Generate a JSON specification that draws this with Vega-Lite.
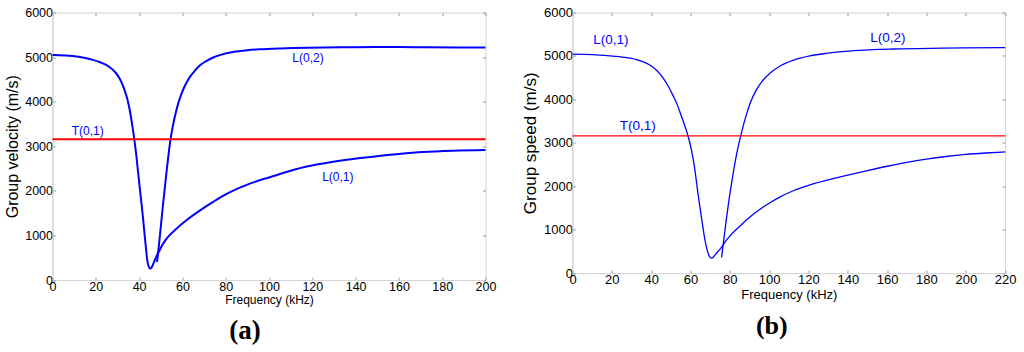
{
  "$schema": "https://vega.github.io/schema/vega-lite/v6.json",
  "background": "white",
  "padding": {"left": 3.5, "top": 5.5, "right": 0, "bottom": 0},
  "autosize": {"type": "pad"},
  "bounds": "flush",
  "spacing": 87,
  "config": {
    "font": "'Liberation Sans', Arial, Helvetica, sans-serif",
    "text": {"font": "'Liberation Sans', Arial, Helvetica, sans-serif"},
    "view": {"stroke": "#d4d4d4", "strokeWidth": 1},
    "axis": {"grid": false, "labelFont": "'Liberation Sans', Arial, Helvetica, sans-serif", "titleFont": "'Liberation Sans', Arial, Helvetica, sans-serif", "format": "d", "labelColor": "black", "titleColor": "black", "titleFontWeight": "normal", "domainColor": "#d4d4d4", "tickColor": "#9a9a9a", "tickSize": -3, "labelOverlap": false, "labelFlush": false, "labelBound": false}
  },
  "datasets": {
    "a": [
      {"s": "L01", "f": 0, "v": 5045}, {"s": "L01", "f": 6, "v": 5035}, {"s": "L01", "f": 12, "v": 5005}, {"s": "L01", "f": 18, "v": 4945},
      {"s": "L01", "f": 22, "v": 4885}, {"s": "L01", "f": 26, "v": 4790}, {"s": "L01", "f": 29, "v": 4660}, {"s": "L01", "f": 31, "v": 4520},
      {"s": "L01", "f": 33, "v": 4300}, {"s": "L01", "f": 34.5, "v": 4070}, {"s": "L01", "f": 35.8, "v": 3780}, {"s": "L01", "f": 37, "v": 3420},
      {"s": "L01", "f": 37.8, "v": 3150}, {"s": "L01", "f": 38.7, "v": 2800}, {"s": "L01", "f": 39.5, "v": 2430}, {"s": "L01", "f": 40.3, "v": 2070},
      {"s": "L01", "f": 41.1, "v": 1720}, {"s": "L01", "f": 41.9, "v": 1350}, {"s": "L01", "f": 42.6, "v": 990}, {"s": "L01", "f": 43.2, "v": 700},
      {"s": "L01", "f": 43.7, "v": 470}, {"s": "L01", "f": 44.3, "v": 320}, {"s": "L01", "f": 45.1, "v": 260}, {"s": "L01", "f": 45.8, "v": 285},
      {"s": "L01", "f": 46.8, "v": 390}, {"s": "L01", "f": 48, "v": 530}, {"s": "L01", "f": 49.6, "v": 680}, {"s": "L01", "f": 51, "v": 810},
      {"s": "L01", "f": 52.7, "v": 930}, {"s": "L01", "f": 57, "v": 1140}, {"s": "L01", "f": 62, "v": 1345}, {"s": "L01", "f": 68, "v": 1555},
      {"s": "L01", "f": 74, "v": 1745}, {"s": "L01", "f": 80, "v": 1920}, {"s": "L01", "f": 86, "v": 2060}, {"s": "L01", "f": 90, "v": 2140},
      {"s": "L01", "f": 95, "v": 2225}, {"s": "L01", "f": 100, "v": 2300}, {"s": "L01", "f": 110, "v": 2450}, {"s": "L01", "f": 118, "v": 2550},
      {"s": "L01", "f": 125, "v": 2615}, {"s": "L01", "f": 135, "v": 2690}, {"s": "L01", "f": 148, "v": 2764}, {"s": "L01", "f": 160, "v": 2825},
      {"s": "L01", "f": 171, "v": 2870}, {"s": "L01", "f": 185, "v": 2900}, {"s": "L01", "f": 200, "v": 2915},
      {"s": "L02", "f": 48.3, "v": 400}, {"s": "L02", "f": 49.2, "v": 800}, {"s": "L02", "f": 50.2, "v": 1280}, {"s": "L02", "f": 51.1, "v": 1720},
      {"s": "L02", "f": 52, "v": 2120}, {"s": "L02", "f": 52.8, "v": 2480}, {"s": "L02", "f": 53.6, "v": 2820}, {"s": "L02", "f": 54.5, "v": 3150},
      {"s": "L02", "f": 55.5, "v": 3430}, {"s": "L02", "f": 56.5, "v": 3660}, {"s": "L02", "f": 58, "v": 3950}, {"s": "L02", "f": 59.6, "v": 4180},
      {"s": "L02", "f": 61.5, "v": 4390}, {"s": "L02", "f": 63.4, "v": 4550}, {"s": "L02", "f": 66, "v": 4710}, {"s": "L02", "f": 68, "v": 4810},
      {"s": "L02", "f": 71, "v": 4910}, {"s": "L02", "f": 74.2, "v": 4990}, {"s": "L02", "f": 78, "v": 5055}, {"s": "L02", "f": 83.4, "v": 5115},
      {"s": "L02", "f": 90, "v": 5155}, {"s": "L02", "f": 95.7, "v": 5175}, {"s": "L02", "f": 105, "v": 5195}, {"s": "L02", "f": 118, "v": 5212},
      {"s": "L02", "f": 140, "v": 5222}, {"s": "L02", "f": 160, "v": 5224}, {"s": "L02", "f": 172, "v": 5220}, {"s": "L02", "f": 200, "v": 5215},
      {"s": "T01", "f": 0, "v": 3155}, {"s": "T01", "f": 200, "v": 3155}
    ],
    "b": [
      {"s": "L01", "f": 0, "v": 5040}, {"s": "L01", "f": 10, "v": 5030}, {"s": "L01", "f": 19, "v": 5000}, {"s": "L01", "f": 26, "v": 4968},
      {"s": "L01", "f": 32.5, "v": 4915}, {"s": "L01", "f": 36, "v": 4865}, {"s": "L01", "f": 39.3, "v": 4790}, {"s": "L01", "f": 43, "v": 4660},
      {"s": "L01", "f": 46.1, "v": 4490}, {"s": "L01", "f": 49, "v": 4280}, {"s": "L01", "f": 51.2, "v": 4080}, {"s": "L01", "f": 53.5, "v": 3850},
      {"s": "L01", "f": 55.4, "v": 3610}, {"s": "L01", "f": 57.2, "v": 3380}, {"s": "L01", "f": 58.8, "v": 3150}, {"s": "L01", "f": 60.3, "v": 2870},
      {"s": "L01", "f": 61.9, "v": 2480}, {"s": "L01", "f": 63.9, "v": 1800}, {"s": "L01", "f": 66.1, "v": 1120}, {"s": "L01", "f": 67.5, "v": 730},
      {"s": "L01", "f": 68.5, "v": 530}, {"s": "L01", "f": 69.3, "v": 415}, {"s": "L01", "f": 70, "v": 362}, {"s": "L01", "f": 70.7, "v": 345},
      {"s": "L01", "f": 71.5, "v": 365}, {"s": "L01", "f": 72.4, "v": 415}, {"s": "L01", "f": 73.6, "v": 480}, {"s": "L01", "f": 74.9, "v": 545},
      {"s": "L01", "f": 76.6, "v": 650}, {"s": "L01", "f": 78, "v": 740}, {"s": "L01", "f": 80, "v": 850}, {"s": "L01", "f": 82.5, "v": 970},
      {"s": "L01", "f": 85.1, "v": 1080}, {"s": "L01", "f": 90.2, "v": 1290}, {"s": "L01", "f": 97, "v": 1520}, {"s": "L01", "f": 100.4, "v": 1620},
      {"s": "L01", "f": 105.4, "v": 1750}, {"s": "L01", "f": 112, "v": 1890}, {"s": "L01", "f": 120, "v": 2020}, {"s": "L01", "f": 130, "v": 2145},
      {"s": "L01", "f": 140, "v": 2255}, {"s": "L01", "f": 150, "v": 2360}, {"s": "L01", "f": 160, "v": 2460}, {"s": "L01", "f": 170, "v": 2550},
      {"s": "L01", "f": 180, "v": 2625}, {"s": "L01", "f": 190, "v": 2685}, {"s": "L01", "f": 200, "v": 2732}, {"s": "L01", "f": 210, "v": 2765},
      {"s": "L01", "f": 220, "v": 2790},
      {"s": "L02", "f": 75.8, "v": 360}, {"s": "L02", "f": 77, "v": 790}, {"s": "L02", "f": 78.3, "v": 1260}, {"s": "L02", "f": 79.6, "v": 1690},
      {"s": "L02", "f": 80.9, "v": 2070}, {"s": "L02", "f": 82, "v": 2380}, {"s": "L02", "f": 83, "v": 2630}, {"s": "L02", "f": 84.2, "v": 2900},
      {"s": "L02", "f": 85.6, "v": 3170}, {"s": "L02", "f": 87, "v": 3420}, {"s": "L02", "f": 88.5, "v": 3660}, {"s": "L02", "f": 90.5, "v": 3930},
      {"s": "L02", "f": 93.6, "v": 4225}, {"s": "L02", "f": 96.5, "v": 4420}, {"s": "L02", "f": 100.4, "v": 4600}, {"s": "L02", "f": 106, "v": 4780},
      {"s": "L02", "f": 112.2, "v": 4900}, {"s": "L02", "f": 120.7, "v": 5000}, {"s": "L02", "f": 129.2, "v": 5060}, {"s": "L02", "f": 137, "v": 5100},
      {"s": "L02", "f": 146, "v": 5130}, {"s": "L02", "f": 163, "v": 5160}, {"s": "L02", "f": 188.5, "v": 5178}, {"s": "L02", "f": 220, "v": 5192},
      {"s": "T01", "f": 0, "v": 3160}, {"s": "T01", "f": 220, "v": 3160}
    ],
    "la": [
      {"t": "L(0,2)", "s": "L", "f": 118, "v": 4971},
      {"t": "L(0,1)", "s": "L", "f": 131.8, "v": 2321},
      {"t": "T(0,1)", "s": "T", "f": 16.3, "v": 3348}
    ],
    "lb": [
      {"t": "L(0,1)", "s": "L", "f": 19.5, "v": 5369},
      {"t": "T(0,1)", "s": "T", "f": 33.2, "v": 3390},
      {"t": "L(0,2)", "s": "L", "f": 160.4, "v": 5408}
    ]
  },
  "hconcat": [
    {
      "width": 433,
      "height": 267.5,
      "title": {"text": "(a)", "orient": "bottom", "anchor": "middle", "dx": -24, "offset": 12, "font": "'Liberation Serif', 'Times New Roman', Times, serif", "fontSize": 27, "fontWeight": "bold", "color": "black", "baseline": "top"},
      "resolve": {"axis": {"x": "independent", "y": "independent"}},
      "layer": [
        {
          "data": {"name": "a"},
          "mark": {"type": "line", "strokeWidth": 2, "interpolate": "monotone"},
          "encoding": {
            "x": {"field": "f", "type": "quantitative", "scale": {"domain": [0, 200], "nice": false}, "axis": {"orient": "bottom", "values": [0, 20, 40, 60, 80, 100, 120, 140, 160, 180, 200], "labelFontSize": 12.5, "labelPadding": 3, "title": "Frequency (kHz)", "titleFontSize": 12, "titlePadding": 2}},
            "y": {"field": "v", "type": "quantitative", "scale": {"domain": [0, 6000], "nice": false}, "axis": {"orient": "left", "values": [0, 1000, 2000, 3000, 4000, 5000, 6000], "labelFontSize": 12.5, "labelPadding": 3, "title": "Group velocity (m/s)", "titleFontSize": 16, "titlePadding": 4}},
            "color": {"field": "s", "type": "nominal", "scale": {"domain": ["L01", "L02", "T01"], "range": ["#0000ff", "#0000ff", "#ff0000"]}, "legend": null},
            "detail": {"field": "s"}
          }
        },
        {
          "data": {"name": "la"},
          "mark": {"type": "text", "fontSize": 12, "align": "center", "baseline": "middle"},
          "encoding": {
            "x": {"field": "f", "type": "quantitative", "axis": {"orient": "top", "labels": false, "domain": false, "title": null, "values": [0, 20, 40, 60, 80, 100, 120, 140, 160, 180, 200]}},
            "y": {"field": "v", "type": "quantitative", "axis": {"orient": "right", "labels": false, "domain": false, "title": null, "values": [0, 1000, 2000, 3000, 4000, 5000, 6000]}},
            "text": {"field": "t"},
            "color": {"field": "s", "type": "nominal", "scale": {"domain": ["L", "T"], "range": ["#1a1aff", "#ff1a1a"]}, "legend": null}
          }
        }
      ]
    },
    {
      "width": 432.6,
      "height": 260.6,
      "title": {"text": "(b)", "orient": "bottom", "anchor": "middle", "dx": -17, "offset": 12, "font": "'Liberation Serif', 'Times New Roman', Times, serif", "fontSize": 26, "fontWeight": "bold", "color": "black", "baseline": "top"},
      "resolve": {"axis": {"x": "independent", "y": "independent"}},
      "layer": [
        {
          "data": {"name": "b"},
          "mark": {"type": "line", "strokeWidth": 1.3, "interpolate": "monotone"},
          "encoding": {
            "x": {"field": "f", "type": "quantitative", "scale": {"domain": [0, 220], "nice": false}, "axis": {"orient": "bottom", "values": [0, 20, 40, 60, 80, 100, 120, 140, 160, 180, 200, 220], "labelFontSize": 13, "labelPadding": 3, "title": "Frequency (kHz)", "titleFontSize": 13, "titlePadding": 2}},
            "y": {"field": "v", "type": "quantitative", "scale": {"domain": [0, 6000], "nice": false}, "axis": {"orient": "left", "values": [0, 1000, 2000, 3000, 4000, 5000, 6000], "labelFontSize": 13, "labelPadding": 3, "title": "Group speed (m/s)", "titleFontSize": 17, "titlePadding": 4}},
            "color": {"field": "s", "type": "nominal", "scale": {"domain": ["L01", "L02", "T01"], "range": ["#0000ff", "#0000ff", "#ff0000"]}, "legend": null},
            "detail": {"field": "s"}
          }
        },
        {
          "data": {"name": "lb"},
          "mark": {"type": "text", "fontSize": 13.5, "align": "center", "baseline": "middle"},
          "encoding": {
            "x": {"field": "f", "type": "quantitative", "axis": {"orient": "top", "labels": false, "domain": false, "title": null, "values": [0, 20, 40, 60, 80, 100, 120, 140, 160, 180, 200, 220]}},
            "y": {"field": "v", "type": "quantitative", "axis": {"orient": "right", "labels": false, "domain": false, "title": null, "values": [0, 1000, 2000, 3000, 4000, 5000, 6000]}},
            "text": {"field": "t"},
            "color": {"field": "s", "type": "nominal", "scale": {"domain": ["L", "T"], "range": ["#1a1aff", "#ff1a1a"]}, "legend": null}
          }
        }
      ]
    }
  ]
}
